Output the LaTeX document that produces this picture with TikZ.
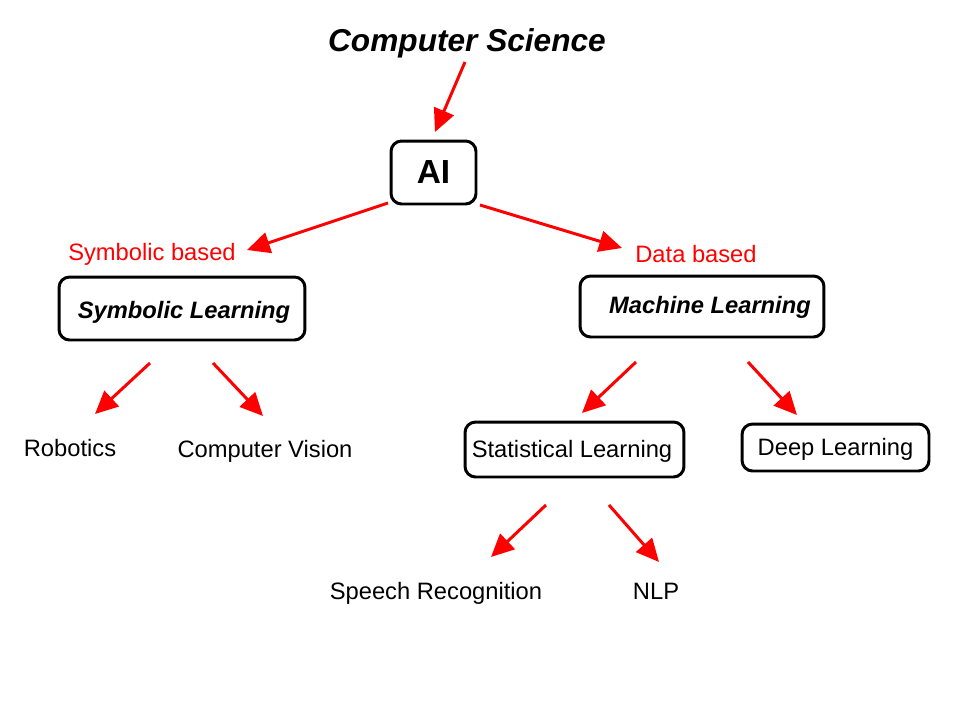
\documentclass[tikz,border=0pt]{standalone}
\usepackage{fontspec}
\setmainfont{Liberation Sans}
\usetikzlibrary{arrows.meta, positioning}
\definecolor{ArrR}{HTML}{FF0000}
\newcommand{\lowtxt}[2]{\raisebox{-#1}[0pt][0pt]{#2}}
\tikzset{
  box/.style={
    rectangle, rounded corners=6pt,
    draw=black, fill=white, text=black,
    font=\fontsize{13.5}{16}\selectfont, align=center,
    inner sep=0pt, line width=1.7pt,
  },
  bbox/.style={
    box, font=\fontsize{13.5}{16}\selectfont\bfseries\itshape,
  },
  arr/.style={
    -{Triangle[length=13pt,width=12pt]},
    line width=1.7pt, color=ArrR,
  },
  redlbl/.style={
    font=\fontsize{13.5}{16}\selectfont, text=ArrR, inner sep=0pt,
  },
  leaf/.style={
    font=\fontsize{13.5}{16}\selectfont, text=black, inner sep=0pt,
  },
}
\begin{document}
\begin{tikzpicture}[x=0.02cm,y=-0.02cm]
  \useasboundingbox (0,0) rectangle (960,720);
  % top and root
  \node[font=\fontsize{18}{21}\selectfont\bfseries\itshape,inner sep=0pt] (cs) at (467,43) {Computer Science};
  \node[box,font=\fontsize{19}{22}\selectfont\bfseries,
        minimum width=1.7cm,minimum height=1.26cm] (ai) at (433.5,172.5) {AI};
  % branch labels
  \node[redlbl] (symlbl) at (152,254) {Symbolic based};
  \node[redlbl] (datlbl) at (696,254) {Data based};
  % second level
  \node[bbox,minimum width=4.92cm,minimum height=1.26cm] (sym) at (182,308.5) {\lowtxt{5.8pt}{\hspace*{0.08cm}Symbolic Learning}};
  \node[bbox,minimum width=4.88cm,minimum height=1.22cm] (ml) at (702,306.5) {\lowtxt{4.1pt}{\hspace*{0.32cm}Machine Learning}};
  % third level
  \node[leaf] (rob) at (70,448) {Robotics};
  \node[leaf] (cv) at (265,451) {Computer Vision};
  \node[box,minimum width=4.38cm,minimum height=1.1cm] (stat) at (574.5,449.5) {\lowtxt{4.6pt}{Statistical Learning\hspace*{0.1cm}}};
  \node[box,minimum width=3.74cm,minimum height=0.94cm] (deep) at (835.5,447.5) {\lowtxt{4.6pt}{Deep Learning}};
  % fourth level
  \node[leaf] (speech) at (436,593) {Speech Recognition};
  \node[leaf] (nlp) at (656,591) {NLP};
  % arrow ends
  \foreach \n/\xa/\ya/\xb/\yb in {cs/465/62/435/132,
                                  ail/388/203/247/250, air/480/205/622/248,
                                  syml/150/363/95/414, symr/213/363/263/416,
                                  mll/636/362/582/413, mlr/748/362/797/415,
                                  statl/546/505/491/557, statr/609/505/659/562}{
    \coordinate (\n-s) at (\xa,\ya);
    \coordinate (\n-e) at (\xb,\yb);
    \draw[arr] (\n-s) -- (\n-e);
  }
\end{tikzpicture}
\end{document}
